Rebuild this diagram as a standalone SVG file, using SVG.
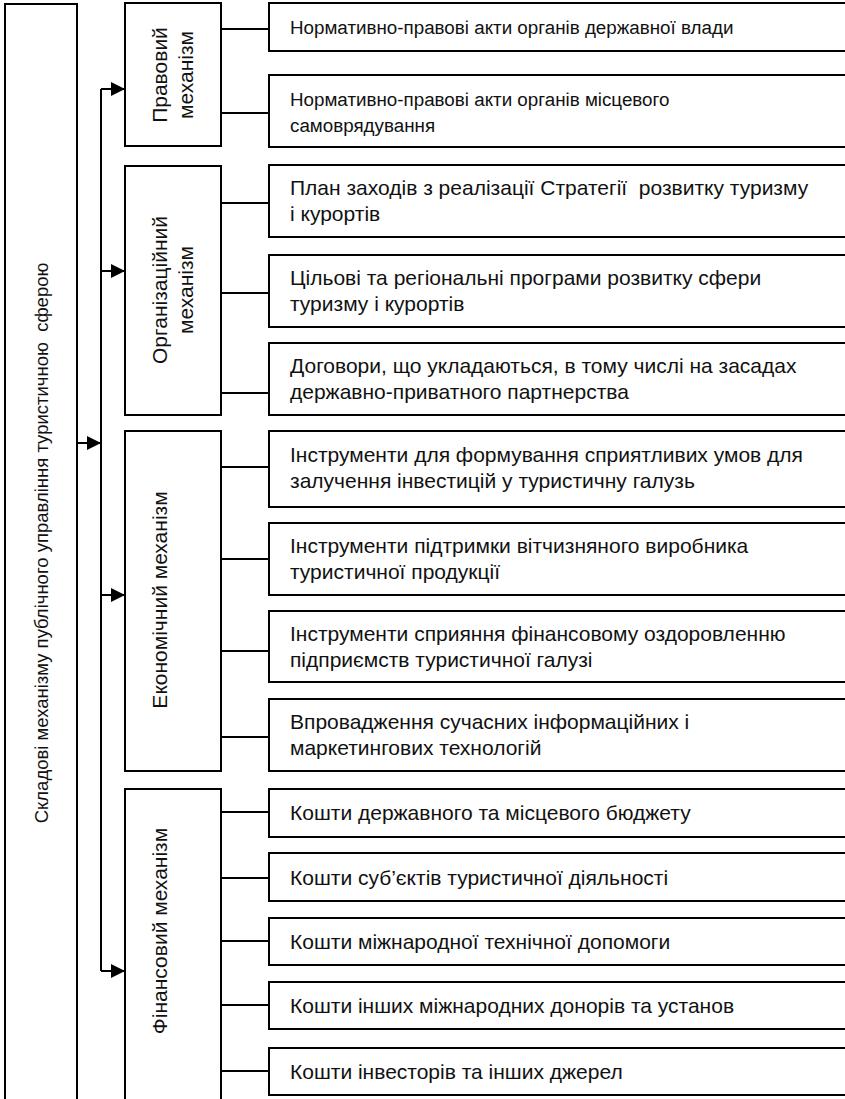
<svg xmlns="http://www.w3.org/2000/svg" width="845" height="1099" viewBox="0 0 845 1099">
  <style>
    .box { fill: #ffffff; stroke: #000000; stroke-width: 2; }
    text { font-family: "Liberation Sans", Arial, sans-serif; fill: #111111; white-space: pre; }
    .lbl { font-size: 21px; }
    .lbl.sm { font-size: 18.8px; }
    .rot { font-size: 21px; text-anchor: middle; }
    .root { font-size: 18.5px; text-anchor: middle; }
    .wire { fill: none; stroke: #000000; stroke-width: 2; }
  </style>
  <defs>
    <marker id="arrow" viewBox="0 0 14 14" refX="14" refY="7" markerWidth="14" markerHeight="14" markerUnits="userSpaceOnUse" orient="auto">
      <path d="M0,0 L14,7 L0,14 Z" fill="#000000"/>
    </marker>
  </defs>
  <rect width="845" height="1099" fill="#ffffff"/>

  <!-- root -->
  <g id="root">
    <rect class="box" x="5" y="4" width="72" height="1110"/>
    <text class="root" xml:space="preserve" transform="translate(48,543) rotate(-90)">Складові механізму публічного управління туристичною  сферою</text>
  </g>

  <!-- mechanisms -->
  <g id="legal">
    <rect class="box" x="125" y="3" width="96" height="143"/>
    <text class="rot" transform="translate(167,75) rotate(-90)">Правовий</text>
    <text class="rot" transform="translate(193,75) rotate(-90)">механізм</text>
  </g>
  <g id="organizational">
    <rect class="box" x="125" y="166" width="96" height="249"/>
    <text class="rot" transform="translate(167,290) rotate(-90)">Організаційний</text>
    <text class="rot" transform="translate(193,290) rotate(-90)">механізм</text>
  </g>
  <g id="economic">
    <rect class="box" x="125" y="431" width="96" height="340"/>
    <text class="rot" transform="translate(167,600) rotate(-90)">Економічний механізм</text>
  </g>
  <g id="financial">
    <rect class="box" x="125" y="789" width="96" height="330"/>
    <text class="rot" transform="translate(167,931) rotate(-90)">Фінансовий механізм</text>
  </g>

  <!-- instruments -->
  <g id="leaf1">
    <rect class="box" x="269" y="3" width="590" height="48"/>
    <text class="lbl sm" x="290" y="34">Нормативно-правові акти органів державної влади</text>
  </g>
  <g id="leaf2">
    <rect class="box" x="269" y="75" width="590" height="72"/>
    <text class="lbl sm" x="290" y="106">Нормативно-правові акти органів місцевого</text>
    <text class="lbl sm" x="290" y="132">самоврядування</text>
  </g>
  <g id="leaf3">
    <rect class="box" x="269" y="165" width="590" height="72"/>
    <text class="lbl" xml:space="preserve" x="290" y="195">План заходів з реалізації Стратегії  розвитку туризму</text>
    <text class="lbl" x="290" y="221">і курортів</text>
  </g>
  <g id="leaf4">
    <rect class="box" x="269" y="255" width="590" height="72"/>
    <text class="lbl" x="290" y="285">Цільові та регіональні програми розвитку сфери</text>
    <text class="lbl" x="290" y="311">туризму і курортів</text>
  </g>
  <g id="leaf5">
    <rect class="box" x="269" y="343" width="590" height="72"/>
    <text class="lbl" x="290" y="373">Договори, що укладаються, в тому числі на засадах</text>
    <text class="lbl" x="290" y="399">державно-приватного партнерства</text>
  </g>
  <g id="leaf6">
    <rect class="box" x="269" y="431" width="590" height="76"/>
    <text class="lbl" x="290" y="462">Інструменти для формування сприятливих умов для</text>
    <text class="lbl" x="290" y="488">залучення інвестицій у туристичну галузь</text>
  </g>
  <g id="leaf7">
    <rect class="box" x="269" y="523" width="590" height="72"/>
    <text class="lbl" x="290" y="553">Інструменти підтримки вітчизняного виробника</text>
    <text class="lbl" x="290" y="579">туристичної продукції</text>
  </g>
  <g id="leaf8">
    <rect class="box" x="269" y="611" width="590" height="71"/>
    <text class="lbl" x="290" y="641">Інструменти сприяння фінансовому оздоровленню</text>
    <text class="lbl" x="290" y="667">підприємств туристичної галузі</text>
  </g>
  <g id="leaf9">
    <rect class="box" x="269" y="699" width="590" height="72"/>
    <text class="lbl" x="290" y="729">Впровадження сучасних інформаційних і</text>
    <text class="lbl" x="290" y="755">маркетингових технологій</text>
  </g>
  <g id="leaf10">
    <rect class="box" x="269" y="789" width="590" height="48"/>
    <text class="lbl" x="290" y="820">Кошти державного та місцевого бюджету</text>
  </g>
  <g id="leaf11">
    <rect class="box" x="269" y="853" width="590" height="48"/>
    <text class="lbl" x="290" y="885">Кошти суб’єктів туристичної діяльності</text>
  </g>
  <g id="leaf12">
    <rect class="box" x="269" y="918" width="590" height="47"/>
    <text class="lbl" x="290" y="949">Кошти міжнародної технічної допомоги</text>
  </g>
  <g id="leaf13">
    <rect class="box" x="269" y="982" width="590" height="47"/>
    <text class="lbl" x="290" y="1013">Кошти інших міжнародних донорів та установ</text>
  </g>
  <g id="leaf14">
    <rect class="box" x="269" y="1048" width="590" height="47"/>
    <text class="lbl" x="290" y="1079">Кошти інвесторів та інших джерел</text>
  </g>

  <!-- connectors -->
  <g id="connectors">
    <path class="wire" d="M77,443 H101" marker-end="url(#arrow)"/>
    <path class="wire" d="M101,89 V971"/>
    <path class="wire" d="M101,89 H125" marker-end="url(#arrow)"/>
    <path class="wire" d="M101,271 H125" marker-end="url(#arrow)"/>
    <path class="wire" d="M101,595 H125" marker-end="url(#arrow)"/>
    <path class="wire" d="M101,971 H125" marker-end="url(#arrow)"/>
    <path class="wire" d="M221,29 H269 M221,113 H269 M221,203 H269 M221,293 H269 M221,393 H269 M221,467 H269 M221,559 H269 M221,651 H269 M221,737 H269 M221,812 H269 M221,878 H269 M221,941 H269 M221,1005 H269 M221,1071 H269"/>
  </g>
</svg>
